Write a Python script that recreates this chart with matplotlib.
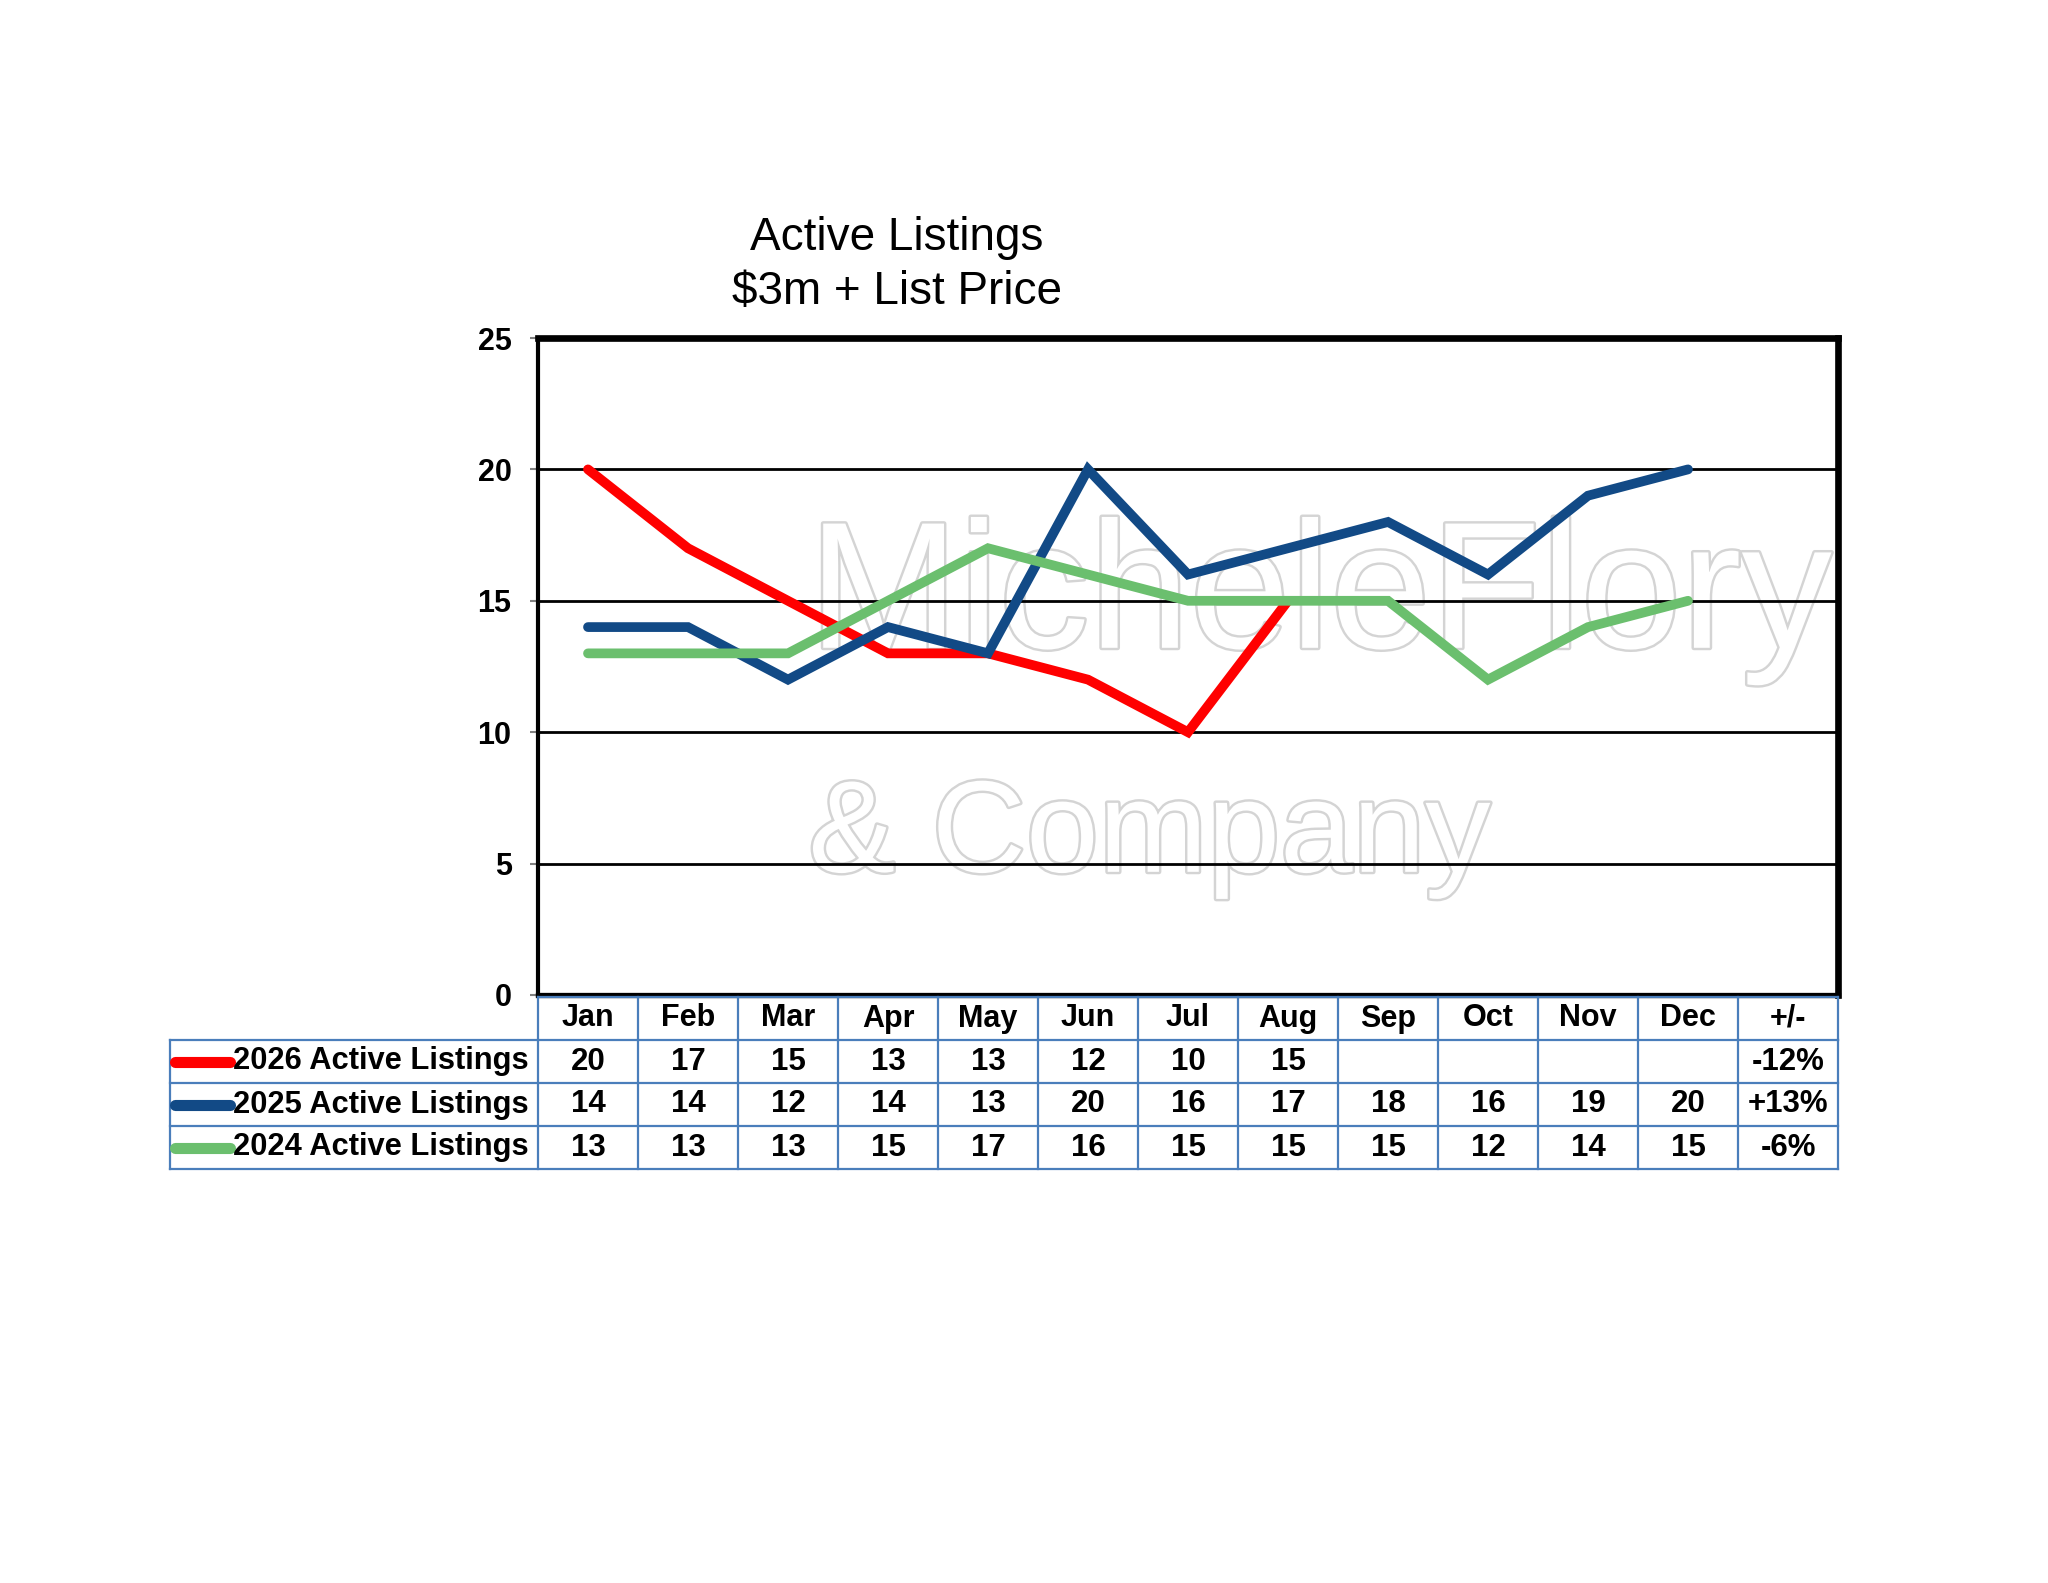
import matplotlib
matplotlib.use("Agg")
import matplotlib.pyplot as plt
import matplotlib.patheffects as pe
import numpy as np

# ---- data ----
months = ["Jan", "Feb", "Mar", "Apr", "May", "Jun", "Jul", "Aug", "Sep", "Oct", "Nov", "Dec"]
change_header = "+/-"
series_names = ["2026 Active Listings", "2025 Active Listings", "2024 Active Listings"]
listings_2026 = [20, 17, 15, 13, 13, 12, 10, 15]
listings_2025 = [14, 14, 12, 14, 13, 20, 16, 17, 18, 16, 19, 20]
listings_2024 = [13, 13, 13, 15, 17, 16, 15, 15, 15, 12, 14, 15]
changes = ["-12%", "+13%", "-6%"]
y_ticks = [0, 5, 10, 15, 20, 25]
title = "Active Listings\n\\$3m + List Price"

colors = ["#FF0000", "#124A86", "#6BBF6E"]
zorders = [3, 4, 5]

plt.rcParams['font.family'] = ['Liberation Sans', 'DejaVu Sans']

W, H = 2048, 1583
fig = plt.figure(figsize=(W / 100, H / 100), dpi=100)
fig.patch.set_facecolor("white")

# main plot axes (pixel-derived position)
px_l, px_r, px_t, px_b = 538, 1838, 338, 995
ax = fig.add_axes([px_l / W, 1 - px_b / H, (px_r - px_l) / W, (px_b - px_t) / H])
ncols = len(months) + 1
ax.set_xlim(-0.5, ncols - 0.5)
ax.set_ylim(0, 25)
ax.set_yticks(y_ticks)
ax.set_yticklabels([str(v) for v in y_ticks], fontsize=22, fontweight="bold")
ax.set_xticks([])
for v in y_ticks[1:-1]:
    ax.axhline(v, color="black", lw=2, zorder=1)
ax.tick_params(axis="y", length=6, width=1.5, color="#808080", pad=13)
for s in ["top", "right"]:
    ax.spines[s].set_linewidth(4.8)
ax.spines["bottom"].set_linewidth(3.8)
ax.spines["left"].set_linewidth(3.0)
for s in ax.spines.values():
    s.set_color("black")
    s.set_zorder(6)

# watermark
wm_effects = [pe.Stroke(linewidth=3.5, foreground="#D4D4D4"), pe.Normal()]
ax.text(0.208, 0.60, "MicheleFlory", transform=ax.transAxes, fontsize=130,
        color="white", ha="left", va="center", zorder=0, path_effects=wm_effects)
ax.text(0.208, 0.24, "& Company", transform=ax.transAxes, fontsize=94,
        color="white", ha="left", va="center", zorder=0, path_effects=wm_effects)

all_series = [listings_2026, listings_2025, listings_2024]
for vals, c, z in zip(all_series, colors, zorders):
    ax.plot(np.arange(len(vals)), vals, color=c, lw=7, zorder=z,
            solid_capstyle="round", solid_joinstyle="miter")

# title
fig.text(897 / W, 1 - 265 / H, title, ha="center", va="center", fontsize=33,
         linespacing=1.28)

# ---- data table ----
t_l, t_t, t_b = 170, 997, 1169
tax = fig.add_axes([t_l / W, 1 - t_b / H, (px_r - t_l) / W, (t_b - t_t) / H])
first_w = (px_l - t_l) / ((px_r - px_l) / ncols)
x0 = -0.5 - first_w
tax.set_xlim(x0, ncols - 0.5)
tax.set_ylim(0, 4)
tax.axis("off")
bc = "#4A7EBB"
blw = 1.6
# header row lines
tax.plot([-0.5, ncols - 0.5], [4, 4], color=bc, lw=blw, clip_on=False)
for i in range(ncols + 1):
    tax.plot([i - 0.5, i - 0.5], [3, 4], color=bc, lw=blw, clip_on=False)
# body rows
for yy in [0, 1, 2, 3]:
    tax.plot([x0, ncols - 0.5], [yy, yy], color=bc, lw=blw, clip_on=False)
for xx in [x0] + [i - 0.5 for i in range(ncols + 1)]:
    tax.plot([xx, xx], [0, 3], color=bc, lw=blw, clip_on=False)

headers = months + [change_header]
for i, h in enumerate(headers):
    tax.text(i, 3.5, h, ha="center", va="center", fontsize=22, fontweight="bold")

for r, (name, vals, c, chg) in enumerate(zip(series_names, all_series, colors, changes)):
    yc = 2.5 - r
    tax.plot([x0 + 0.05, x0 + 0.6], [yc, yc], color=c, lw=8, solid_capstyle="round")
    tax.text(x0 + 0.63, yc, name, ha="left", va="center", fontsize=22.2, fontweight="bold")
    for i, v in enumerate(vals):
        tax.text(i, yc, str(v), ha="center", va="center", fontsize=22.5, fontweight="bold")
    tax.text(ncols - 1, yc, chg, ha="center", va="center", fontsize=22.5, fontweight="bold")

fig.savefig("out.png", dpi=100, facecolor="white")
